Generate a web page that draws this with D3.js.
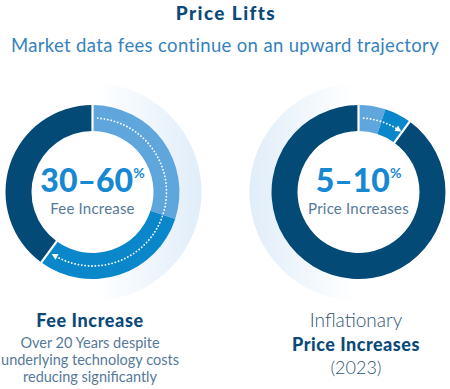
<!DOCTYPE html>
<html>
<head>
<meta charset="utf-8">
<script src="https://cdn.jsdelivr.net/npm/d3@7"></script>
<style>
  html, body { margin: 0; padding: 0; background: #ffffff; }
  svg { display: block; font-family: Lato, "Open Sans", sans-serif; }
</style>
</head>
<body>
<svg id="chart" width="450" height="389"></svg>
<script>
// ---- data ----
const titleText = "Price Lifts";
const subtitleText = "Market data fees continue on an upward trajectory";

const segmentKeys = ["base", "increase", "rest"];
const feeValues = [30, 30, 40];        // 30% base, up to 60%, remainder
const priceValues = [5, 5, 90];        // 5% base, up to 10%, remainder

const feeCenterBig = "30–60";
const feeCenterSmall = "Fee Increase";
const priceCenterBig = "5–10";
const priceCenterSmall = "Price Increases";

const feeCaptionTitle = "Fee Increase";
const feeCaptionLines = ["Over 20 Years despite", "underlying technology costs", "reducing significantly"];
const priceCaptionTop = "Inflationary";
const priceCaptionTitle = "Price Increases";
const priceCaptionBottom = "(2023)";

// ---- styles ----
const colors = { base: "#5ea6dc", increase: "#0a86cb", rest: "#034a76" };
const navy = "#0b4a78";
const subBlue = "#3582bd";
const bigBlue = "#1789d2";
const greyBlue = "#56799a";

const svg = d3.select("#chart");
const defs = svg.append("defs");

// Title & subtitle
svg.append("text").attr("x", 226).attr("y", 19.5)
  .attr("text-anchor", "middle").attr("font-weight", 900).attr("font-size", 19)
  .attr("letter-spacing", 1.4)
  .attr("fill", navy).text(titleText);
svg.append("text").attr("x", 225).attr("y", 52)
  .attr("text-anchor", "middle").attr("font-weight", 400).attr("font-size", 18.5)
  .attr("letter-spacing", 0.35)
  .attr("fill", subBlue).text(subtitleText);

const rOuter = 87, rInner = 61, rGlow = 109;

function donut(cfg) {
  const g = svg.append("g").attr("transform", `translate(${cfg.cx},${cfg.cy})`);

  // glow
  const gid = "glow" + cfg.id;
  const grad = defs.append("linearGradient").attr("id", gid)
    .attr("gradientUnits", "userSpaceOnUse")
    .attr("x1", cfg.glowDir * 5).attr("y1", 0)
    .attr("x2", cfg.glowDir * rGlow).attr("y2", 0);
  grad.append("stop").attr("offset", 0).attr("stop-color", "#ffffff");
  grad.append("stop").attr("offset", 1).attr("stop-color", "#e0edf9");
  g.append("circle").attr("r", rGlow).attr("fill", `url(#${gid})`);

  // white centre
  g.append("circle").attr("r", rOuter).attr("fill", "#ffffff");

  const pie = d3.pie().sort(null).value(d => d.v);
  const arcs = pie(cfg.values.map((v, i) => ({ key: segmentKeys[i], v })));
  const arc = d3.arc().innerRadius(rInner).outerRadius(rOuter);

  g.selectAll("path.seg").data(arcs).join("path")
    .attr("class", "seg")
    .attr("d", arc)
    .attr("fill", d => colors[d.data.key]);

  // separators around the remainder segment
  const rest = arcs.find(a => a.data.key === "rest");
  [rest.startAngle, rest.endAngle].forEach(a => {
    const s = Math.sin(a), c = -Math.cos(a);
    g.append("line")
      .attr("x1", s * (rInner - 1)).attr("y1", c * (rInner - 1))
      .attr("x2", s * (rOuter + 1)).attr("y2", c * (rOuter + 1))
      .attr("stroke", "#ffffff").attr("stroke-width", 2.2);
  });

  // dotted arrow along colored part
  const a0 = 4 * Math.PI / 180;
  const a1 = rest.startAngle - cfg.arrowBack * Math.PI / 180;
  const rA = 74;
  const pts = d3.range(0, 61).map(i => {
    const a = a0 + (a1 - a0) * i / 60;
    return [Math.sin(a) * rA, -Math.cos(a) * rA];
  });
  g.append("path")
    .attr("d", d3.line()(pts))
    .attr("fill", "none").attr("stroke", "#ffffff")
    .attr("stroke-width", 1.8)
    .attr("stroke-linecap", "round")
    .attr("stroke-dasharray", "0.1 3.3");
  // arrowhead
  const last = pts[pts.length - 1], prev = pts[pts.length - 2];
  const ang = Math.atan2(last[1] - prev[1], last[0] - prev[0]) * 180 / Math.PI;
  g.append("path")
    .attr("d", "M-3,-3.2 L3,0 L-3,3.2 Z")
    .attr("fill", "#ffffff")
    .attr("transform", `translate(${last[0]},${last[1]}) rotate(${ang})`);

  // centre text
  const big = g.append("text").attr("y", 0).attr("text-anchor", "middle")
    .attr("font-weight", 900).attr("font-size", 32).attr("fill", bigBlue);
  big.append("tspan").text(cfg.big);
  big.append("tspan").attr("font-size", 14).attr("dy", -14).attr("font-weight", 700).text("%");
  g.append("text").attr("y", 22).attr("text-anchor", "middle")
    .attr("font-weight", 400).attr("font-size", 15).attr("letter-spacing", 0.2)
    .attr("fill", greyBlue)
    .text(cfg.small);
}

donut({ id: "L", cx: 92.5, cy: 192, values: feeValues, glowDir: 1, arrowBack: 5,
        big: feeCenterBig, small: feeCenterSmall });
donut({ id: "R", cx: 358.5, cy: 192, values: priceValues, glowDir: -1, arrowBack: 3,
        big: priceCenterBig, small: priceCenterSmall });

// captions left
svg.append("text").attr("x", 90).attr("y", 327).attr("text-anchor", "middle")
  .attr("font-weight", 900).attr("font-size", 18).attr("letter-spacing", 0.6)
  .attr("fill", navy).text(feeCaptionTitle);
feeCaptionLines.forEach((t, i) => {
  svg.append("text").attr("x", 90).attr("y", 348 + i * 17).attr("text-anchor", "middle")
    .attr("font-weight", 400).attr("font-size", 14.5).attr("fill", greyBlue).text(t);
});

// captions right
svg.append("text").attr("x", 356).attr("y", 327).attr("text-anchor", "middle")
  .attr("font-weight", 300).attr("font-size", 19).attr("fill", "#2e5573").text(priceCaptionTop);
svg.append("text").attr("x", 356).attr("y", 351).attr("text-anchor", "middle")
  .attr("font-weight", 900).attr("font-size", 18).attr("letter-spacing", 0.5)
  .attr("fill", navy).text(priceCaptionTitle);
svg.append("text").attr("x", 356).attr("y", 374).attr("text-anchor", "middle")
  .attr("font-weight", 300).attr("font-size", 18).attr("fill", "#2e5573").text(priceCaptionBottom);
</script>
</body>
</html>
